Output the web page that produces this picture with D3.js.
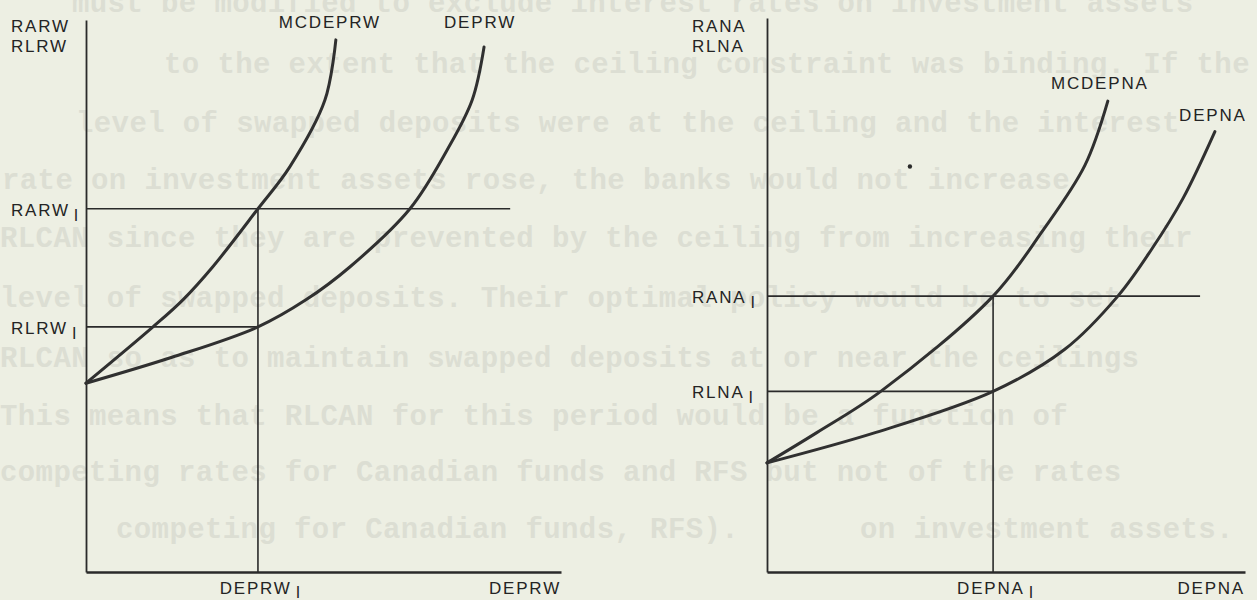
<!DOCTYPE html>
<html>
<head>
<meta charset="utf-8">
<script src="https://cdn.jsdelivr.net/npm/d3@7"></script>
<style>
  body { margin: 0; background: #edefe3; }
</style>
</head>
<body>
<div id="chart"></div>
<script>
// curve points, in axis units (0-100 on both axes of each panel)
const mcdeprwX = [0, 14.1, 20.4, 26.7, 36.2, 42.9, 50.3, 52.6];
const mcdeprwY = [34.2, 44.4, 49.3, 55.3, 65.8, 73.4, 85.5, 96.4];
const deprwX = [0, 18.1, 36.2, 46.3, 55.6, 68.2, 76.0, 81.3, 83.8];
const deprwY = [34.2, 38.9, 44.4, 49.3, 55.3, 65.8, 76.4, 85.5, 95.1];

const mcdepnaX = [0, 10.5, 23.8, 47.3, 57.5, 66.5, 71.3];
const mcdepnaY = [19.7, 25.2, 32.6, 49.8, 61.4, 73.4, 85.0];
const depnaX = [0, 22.8, 47.3, 62.3, 73.4, 80.5, 87.0, 93.7];
const depnaY = [19.7, 25.2, 32.6, 40.2, 49.8, 58.3, 67.4, 79.5];

// equilibrium levels: [RA..1, RL..1] and the deposit level
const levelsW = [65.8, 44.4];
const depW1 = 36.2;
const levelsN = [49.8, 32.6];
const depN1 = 47.3;

// the axis titles
const yTitlesW = ["RARW", "RLRW"];
const yTitlesN = ["RANA", "RLNA"];
const levelNamesW = ["RARW", "RLRW"];
const levelNamesN = ["RANA", "RLNA"];

// faint typewriter text showing through the page
const ghostText = [
  "must be modified to exclude interest rates on investment assets",
  "to the extent that the ceiling constraint was binding. If the",
  "level of swapped deposits were at the ceiling and the interest",
  "rate on investment assets rose, the banks would not increase",
  "RLCAN since they are prevented by the ceiling from increasing their",
  "level of swapped deposits. Their optimal policy would be to set",
  "RLCAN so as to maintain swapped deposits at or near the ceilings",
  "This means that RLCAN for this period would be a function of",
  "competing rates for Canadian funds and RFS but not of the rates",
  "competing for Canadian funds, RFS).",
  "on investment assets."
];
const ghostX = [72, 164, 76, 2, 0, 0, 0, 0, 0, 116, 860];
const ghostY = [5, 66, 125, 182, 240, 300, 360, 418, 474, 531, 531];

const width = 1257, height = 600;

let svg = d3.select("#chart")
  .append("svg")
  .attr("width", width)
  .attr("height", height)
  .attr("viewBox", [0, 0, width, height]);

svg.append("rect")
  .attr("width", width)
  .attr("height", height)
  .attr("fill", "#edefe3");

svg.append("g")
  .selectAll("text")
  .data(ghostText)
  .join("text")
  .attr("x", (d, i) => ghostX[i])
  .attr("y", (d, i) => ghostY[i] + 7)
  .attr("font-family", "'Liberation Mono', monospace")
  .attr("font-weight", "bold")
  .attr("font-size", 29)
  .attr("letter-spacing", 0.4)
  .attr("fill", "#dcded3")
  .text(d => d);

const ink = "#2a2a2a";
const font = "'Liberation Sans', Arial, sans-serif";

function drawPanel(p) {
  let x = d3.scaleLinear().domain([0, 100]).range([p.left, p.right]);
  let y = d3.scaleLinear().domain([0, 100]).range([572, p.top]);
  let g = svg.append("g");

  // axes without ticks
  g.append("g")
    .attr("transform", `translate(0,${y(0)})`)
    .call(d3.axisBottom(x).tickValues([]).tickSizeOuter(0))
    .call(a => a.select(".domain").attr("stroke", ink).attr("stroke-width", 2.4));
  g.append("g")
    .attr("transform", `translate(${x(0)},0)`)
    .call(d3.axisLeft(y).tickValues([]).tickSizeOuter(0))
    .call(a => a.select(".domain").attr("stroke", ink).attr("stroke-width", 1.8));

  // guide lines at the equilibrium
  g.append("line")
    .attr("x1", x(0)).attr("x2", x(p.hiEnd))
    .attr("y1", y(p.levels[0])).attr("y2", y(p.levels[0]));
  g.append("line")
    .attr("x1", x(0)).attr("x2", x(p.dep1))
    .attr("y1", y(p.levels[1])).attr("y2", y(p.levels[1]));
  g.append("line")
    .attr("x1", x(p.dep1)).attr("x2", x(p.dep1))
    .attr("y1", y(0)).attr("y2", y(p.levels[0]));
  g.selectAll("line").attr("stroke", ink).attr("stroke-width", 1.6);

  // curves
  let line = d3.line()
    .x(d => x(d[0]))
    .y(d => y(d[1]))
    .curve(d3.curveCatmullRom.alpha(0.5));

  p.curves.forEach(c => {
    let pts = d3.zip(c.xs, c.ys);
    g.append("path")
      .attr("d", line(pts))
      .attr("fill", "none")
      .attr("stroke", "#303030")
      .attr("stroke-width", 3)
      .attr("stroke-linecap", "round");
    let last = pts[pts.length - 1];
    g.append("text")
      .attr("x", x(last[0]) + c.dx)
      .attr("y", y(last[1]) + c.dy)
      .attr("text-anchor", "middle")
      .text(c.name);
  });

  // y axis title
  g.append("text")
    .attr("x", x(0) - 75)
    .selectAll("tspan")
    .data(p.yTitles)
    .join("tspan")
    .attr("x", x(0) - 75)
    .attr("y", (d, i) => 32 + i * 20)
    .text(d => d);

  // level labels with subscript
  p.levelNames.forEach((name, i) => {
    let t = g.append("text")
      .attr("x", x(0) - 75)
      .attr("y", y(p.levels[i]) + 7)
      .text(name);
    t.append("tspan").attr("dx", 4).attr("dy", 5).attr("font-size", 16).text("I");
  });

  // x axis labels
  let t = g.append("text")
    .attr("x", x(p.dep1) + 2)
    .attr("y", 594)
    .attr("text-anchor", "middle")
    .text(p.xName);
  t.append("tspan").attr("dx", 4).attr("dy", 4).attr("font-size", 16).text("I");

  g.append("text")
    .attr("x", x(100))
    .attr("y", 594)
    .attr("text-anchor", "end")
    .text(p.xName);

  g.selectAll("text")
    .attr("font-family", font)
    .attr("font-size", function() { return this.getAttribute("font-size") || 17; })
    .attr("letter-spacing", 1.8)
    .attr("fill", "#242424");
  g.selectAll("tspan[font-size]").attr("letter-spacing", 0);

  return { x, y, g };
}

drawPanel({
  left: 86, right: 561, top: 20,
  levels: levelsW, dep1: depW1, hiEnd: 89.3,
  yTitles: yTitlesW, levelNames: levelNamesW, xName: "DEPRW",
  curves: [
    { name: "MCDEPRW", xs: mcdeprwX, ys: mcdeprwY, dx: -6, dy: -12 },
    { name: "DEPRW", xs: deprwX, ys: deprwY, dx: -4, dy: -19 }
  ]
});

let right = drawPanel({
  left: 767, right: 1245, top: 18,
  levels: levelsN, dep1: depN1, hiEnd: 90.6,
  yTitles: yTitlesN, levelNames: levelNamesN, xName: "DEPNA",
  curves: [
    { name: "MCDEPNA", xs: mcdepnaX, ys: mcdepnaY, dx: -8, dy: -12 },
    { name: "DEPNA", xs: depnaX, ys: depnaY, dx: -2, dy: -11 }
  ]
});

// small ink speck on the right panel
right.g.append("circle")
  .attr("cx", right.x(29.9))
  .attr("cy", right.y(73.2))
  .attr("r", 2.2)
  .attr("fill", "#2a2a2a");
</script>
</body>
</html>
